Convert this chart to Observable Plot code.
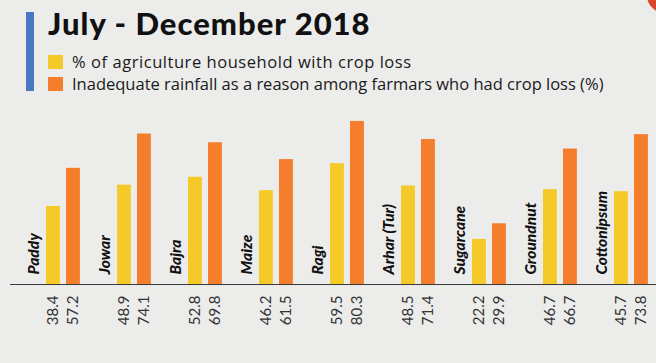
<!DOCTYPE html>
<html>
<head>
<meta charset="utf-8">
<script src="https://cdn.jsdelivr.net/npm/d3@7"></script>
<script src="https://cdn.jsdelivr.net/npm/@observablehq/plot@0.6"></script>
<style>
  html, body { margin: 0; padding: 0; }
  body { width: 656px; height: 363px; overflow: hidden; background: #ececeb; font-family: Lato, "Noto Sans", sans-serif; }
  #wrap { position: relative; width: 656px; height: 363px; }
  #bluebar { position: absolute; left: 26px; top: 12px; width: 8px; height: 79px; background: #4a78c4; }
  #title { position: absolute; left: 48px; top: 3px; font-size: 31px; font-weight: 900; letter-spacing: 1px; color: #111; line-height: 40px; white-space: nowrap; }
  .leg { position: absolute; left: 48px; height: 20px; line-height: 20px; font-family: "Open Sans", sans-serif; font-size: 16.5px; color: #1a1a1a; white-space: nowrap; }
  .leg span.sw { display: inline-block; width: 15px; height: 14px; vertical-align: -1px; margin-right: 9px; }
  #logo { position: absolute; left: 647px; top: -22px; width: 36px; height: 35px; border-radius: 50%; background: #d9462c; }
  #chart { position: absolute; left: 0; top: 0; }
</style>
</head>
<body>
<div id="wrap">
  <div id="chart"></div>
  <div id="bluebar"></div>
  <div id="title"></div>
  <div class="leg" id="leg1" style="top:52px; letter-spacing:0.55px"></div>
  <div class="leg" id="leg2" style="top:74px"></div>
  <div id="logo"></div>
</div>
<script>
const titleText = "July - December 2018";
const seriesNames = ["% of agriculture household with crop loss", "Inadequate rainfall as a reason among farmars who had crop loss (%)"];
const seriesColors = ["#f5c928", "#f47e2b"];
const categories = ["Paddy", "Jowar", "Bajra", "Maize", "Ragi", "Arhar (Tur)", "Sugarcane", "Groundnut", "Cottonipsum"];
const cropLoss = [38.4, 48.9, 52.8, 46.2, 59.5, 48.5, 22.2, 46.7, 45.7];
const rainfall = [57.2, 74.1, 69.8, 61.5, 80.3, 71.4, 29.9, 66.7, 73.8];

document.getElementById("title").textContent = titleText;
document.getElementById("leg1").innerHTML = `<span class="sw" style="background:${seriesColors[0]}"></span>` + seriesNames[0];
document.getElementById("leg2").innerHTML = `<span class="sw" style="background:${seriesColors[1]}"></span>` + seriesNames[1];

const data = categories.map((c, i) => ({category: c, loss: cropLoss[i], rain: rainfall[i]}));

const step = 71.125;
const chart = Plot.plot({
  width: 656,
  height: 363,
  marginTop: 100,
  marginBottom: 79,
  marginLeft: 10,
  marginRight: 0,
  style: {background: "transparent", overflow: "visible"},
  x: {type: "band", domain: categories, paddingInner: 0, paddingOuter: 0.0414, axis: null},
  y: {domain: [0, 90.6], axis: null},
  marks: [
    Plot.barY(data, {x: "category", y: "loss", fill: seriesColors[0], insetLeft: 32, insetRight: step - 46}),
    Plot.barY(data, {x: "category", y: "rain", fill: seriesColors[1], insetLeft: 52, insetRight: step - 66}),
    Plot.ruleY([0], {stroke: "#3a3a3a", strokeWidth: 1.2}),
    Plot.text(data, {x: "category", y: () => 0, text: "category", rotate: -90, textAnchor: "start", lineAnchor: "middle", dx: -15.5, dy: -10, fontSize: 15.5, fontWeight: 900, fontStyle: "italic", fill: "#111", fontFamily: "Lato, sans-serif"}),
    Plot.text(data, {x: "category", y: () => 0, text: d => d.loss.toFixed(1), rotate: -90, textAnchor: "end", lineAnchor: "middle", dx: 3.4, dy: 11, fontSize: 15, fill: "#333", fontFamily: "Lato, sans-serif"}),
    Plot.text(data, {x: "category", y: () => 0, text: d => d.rain.toFixed(1), rotate: -90, textAnchor: "end", lineAnchor: "middle", dx: 23.4, dy: 11, fontSize: 15, fill: "#333", fontFamily: "Lato, sans-serif"})
  ]
});
document.getElementById("chart").appendChild(chart);
</script>
</body>
</html>
